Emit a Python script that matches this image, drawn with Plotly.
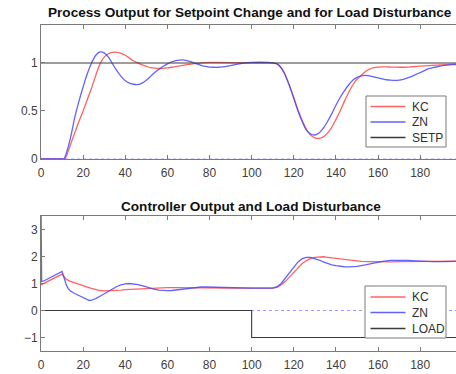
import plotly.graph_objects as go

# ---- Process output (setpoint change at t=0, load step at t=100) ----
t_pv_kc = [0, 10, 11.2, 12, 14, 16, 18, 20, 22, 24, 26, 28, 30, 32, 34, 36, 38, 40, 42, 44, 46,
           48, 50, 52, 54, 56, 58, 60, 62, 64, 66, 68, 70, 72, 74, 76, 80, 84, 90, 100, 110,
           112, 114, 116, 118, 120, 122, 124, 126, 128, 130, 132, 134, 136, 138, 140, 142, 144,
           146, 148, 150, 152, 154, 156, 158, 160, 162, 164, 166, 168, 170, 172, 174, 176, 178,
           180, 184, 188, 192, 196, 200]
pv_kc = [0, 0, 0, 0.03, 0.15, 0.27, 0.39, 0.5, 0.62, 0.74, 0.87, 0.99, 1.06, 1.095, 1.11, 1.11,
         1.1, 1.08, 1.05, 1.02, 1.0, 0.98, 0.965, 0.952, 0.945, 0.942, 0.943, 0.948, 0.955, 0.962,
         0.97, 0.978, 0.985, 0.99, 0.995, 1.0, 1.005, 1.005, 1.003, 1.0, 1.0,
         0.99, 0.95, 0.87, 0.76, 0.64, 0.51, 0.4, 0.31, 0.25, 0.22, 0.215, 0.23, 0.27, 0.33, 0.41,
         0.5, 0.6, 0.69, 0.77, 0.83, 0.87, 0.91, 0.935, 0.95, 0.956, 0.958, 0.958, 0.957, 0.956,
         0.955, 0.955, 0.957, 0.96, 0.963, 0.966, 0.972, 0.978, 0.983, 0.987, 0.99]

t_pv_zn = [0, 10, 10.8, 12, 14, 16, 18, 20, 22, 24, 26, 28, 30, 32, 34, 36, 38, 40, 42, 44, 46,
           48, 50, 52, 54, 56, 58, 60, 62, 64, 66, 68, 70, 72, 74, 76, 78, 80, 82, 84, 86, 88,
           90, 92, 94, 96, 100, 104, 108, 110, 112, 114, 116, 118, 120, 122, 124, 126, 128, 130,
           132, 134, 136, 138, 140, 142, 144, 146, 148, 150, 152, 154, 156, 158, 160, 162, 164,
           166, 168, 170, 172, 174, 176, 178, 180, 182, 184, 186, 188, 190, 192, 194, 196, 200]
pv_zn = [0, 0, 0, 0.06, 0.22, 0.43, 0.6, 0.75, 0.89, 1.0, 1.08, 1.115, 1.105, 1.06, 0.99, 0.92,
         0.86, 0.815, 0.79, 0.778, 0.775, 0.79, 0.82, 0.86, 0.9, 0.935, 0.965, 0.99, 1.01, 1.025,
         1.03, 1.03, 1.02, 1.005, 0.99, 0.975, 0.963, 0.957, 0.955, 0.955, 0.958, 0.965, 0.972,
         0.982, 0.99, 0.997, 1.005, 1.007, 1.005, 1.0,
         0.99, 0.95, 0.87, 0.76, 0.63, 0.5, 0.39, 0.3, 0.26, 0.25, 0.27, 0.32, 0.39, 0.47, 0.56,
         0.64, 0.71, 0.77, 0.82, 0.85, 0.865, 0.87, 0.865, 0.855, 0.845, 0.835, 0.825, 0.82,
         0.818, 0.82, 0.83, 0.845, 0.86, 0.88, 0.9, 0.92, 0.94, 0.95, 0.96, 0.97, 0.975, 0.98,
         0.982, 0.985]

t_setp = [0, 200]
setp = [1, 1]

# ---- Controller output and load disturbance ----
t_co_kc = [0, 2, 4, 6, 8, 10, 11, 12, 14, 16, 18, 20, 22, 24, 26, 28, 30, 32, 34, 36, 38, 40,
           44, 48, 52, 56, 60, 64, 68, 72, 76, 80, 90, 100, 110, 112, 114, 116, 118, 120, 122,
           124, 126, 128, 130, 132, 134, 136, 138, 140, 144, 148, 152, 156, 160, 166, 172, 180,
           190, 200]
co_kc = [0.95, 1.03, 1.1, 1.18, 1.26, 1.35, 1.25, 1.15, 1.08, 1.02, 0.97, 0.92, 0.87, 0.82,
         0.77, 0.74, 0.73, 0.73, 0.735, 0.745, 0.755, 0.77, 0.79, 0.81, 0.83, 0.84, 0.845,
         0.845, 0.84, 0.835, 0.83, 0.83, 0.83, 0.83, 0.83, 0.86, 0.95, 1.08, 1.25, 1.44, 1.6,
         1.74, 1.85, 1.93, 1.97, 1.99, 1.99, 1.97, 1.95, 1.93, 1.88, 1.84, 1.82, 1.81, 1.8, 1.8,
         1.81, 1.82, 1.825, 1.83]

t_co_zn = [0, 0.3, 2, 4, 6, 8, 10, 11, 12, 13, 14, 16, 18, 20, 22, 23, 24, 26, 28, 30, 32, 34,
           36, 38, 40, 42, 44, 46, 48, 50, 52, 54, 56, 58, 60, 62, 64, 66, 68, 70, 72, 74, 76,
           78, 80, 84, 88, 92, 96, 100, 110, 112, 114, 116, 118, 120, 122, 124, 126, 128, 130,
           132, 134, 136, 138, 140, 142, 144, 146, 148, 150, 154, 158, 162, 166, 170, 174, 178,
           182, 186, 190, 196, 200]
co_zn = [4.0, 1.07, 1.12, 1.2, 1.28, 1.37, 1.45, 1.2, 0.95, 0.8, 0.72, 0.63, 0.55, 0.47, 0.4,
         0.37, 0.38, 0.44, 0.53, 0.62, 0.72, 0.81, 0.89, 0.95, 0.99, 1.0, 0.99, 0.96, 0.92, 0.87,
         0.82, 0.78, 0.755, 0.74, 0.735, 0.74, 0.76, 0.78, 0.81, 0.83, 0.85, 0.86, 0.87, 0.87,
         0.865, 0.855, 0.845, 0.835, 0.83, 0.83, 0.83, 0.88, 1.0, 1.2, 1.42, 1.62, 1.8, 1.92,
         1.97, 1.97, 1.93, 1.87, 1.8, 1.74, 1.69, 1.66, 1.635, 1.62, 1.615, 1.62, 1.635, 1.69,
         1.76, 1.82, 1.86, 1.87, 1.86, 1.84, 1.82, 1.81, 1.81, 1.815, 1.82]

t_load = [0, 100, 100, 200]
load = [0, 0, -1, -1]

t_zero = [0, 200]
zero = [0, 0]

x_ticks = [0, 20, 40, 60, 80, 100, 120, 140, 160, 180]
legend_top = ["KC", "ZN", "SETP"]
legend_bottom = ["KC", "ZN", "LOAD"]

RED = "rgba(255,70,70,0.85)"
BLUE = "rgba(70,70,255,0.85)"
GREY = "#3a3a3a"
FONT = "Liberation Sans, Arial, sans-serif"

W, H = 456, 374
ML, MR, MT, MB = 41, 0, 24, 23
PW, PH = W - ML - MR, H - MT - MB


def px(x):
    return (x - ML) / PW


def py(y):
    return (H - MB - y) / PH


fig = go.Figure()

# upper axes: process output
fig.add_trace(go.Scatter(x=t_zero, y=zero, mode="lines",
                         line=dict(color="rgba(110,110,255,0.7)", width=1, dash="dot"),
                         xaxis="x", yaxis="y", hoverinfo="skip"))
fig.add_trace(go.Scatter(x=t_pv_kc, y=pv_kc, name="KC", mode="lines", line_shape="spline",
                         line=dict(color=RED, width=1.3), xaxis="x", yaxis="y"))
fig.add_trace(go.Scatter(x=t_pv_zn, y=pv_zn, name="ZN", mode="lines", line_shape="spline",
                         line=dict(color=BLUE, width=1.3), xaxis="x", yaxis="y"))
fig.add_trace(go.Scatter(x=t_setp, y=setp, name="SETP", mode="lines",
                         line=dict(color=GREY, width=1.1), xaxis="x", yaxis="y"))

# lower axes: controller output and load
fig.add_trace(go.Scatter(x=t_zero, y=zero, mode="lines",
                         line=dict(color="rgba(110,110,255,0.7)", width=1, dash="dot"),
                         xaxis="x2", yaxis="y2", hoverinfo="skip"))
fig.add_trace(go.Scatter(x=t_co_kc, y=co_kc, name="KC", mode="lines",
                         line=dict(color=RED, width=1.3), xaxis="x2", yaxis="y2"))
fig.add_trace(go.Scatter(x=t_co_zn, y=co_zn, name="ZN", mode="lines",
                         line=dict(color=BLUE, width=1.3), xaxis="x2", yaxis="y2"))
fig.add_trace(go.Scatter(x=t_load, y=load, name="LOAD", mode="lines",
                         line=dict(color=GREY, width=1.1), xaxis="x2", yaxis="y2"))

axis_common = dict(showline=True, linecolor="#7a7a7a", linewidth=1, ticks="inside",
                   ticklen=4, tickcolor="#7a7a7a", showgrid=False, zeroline=False,
                   tickfont=dict(family=FONT, size=12, color="#404040"))

# legend boxes drawn in paper space
shapes = []
annotations = []
legend_colors = [RED, BLUE, GREY]
for names, (bx0, by0, bx1, by1), rows in [
        (legend_top, (366, 96, 446, 147), (106.5, 122, 137.5)),
        (legend_bottom, (365, 286, 446, 338), (297, 312.5, 328.5))]:
    shapes.append(dict(type="rect", xref="paper", yref="paper",
                       x0=px(bx0), x1=px(bx1), y0=py(by1), y1=py(by0),
                       line=dict(color="#7a7a7a", width=1), fillcolor="white", layer="above"))
    for name, yy, col in zip(names, rows, legend_colors):
        shapes.append(dict(type="line", xref="paper", yref="paper",
                           x0=px(370.5), x1=px(405.5), y0=py(yy), y1=py(yy),
                           line=dict(color=col, width=1.3), layer="above"))
        annotations.append(dict(text=name, x=px(410), y=py(yy), xref="paper", yref="paper",
                                xanchor="left", yanchor="middle", showarrow=False,
                                font=dict(family=FONT, size=12, color="#303030")))

annotations += [
    dict(text="<b>Process Output for Setpoint Change and for Load Disturbance</b>",
         x=px(250), y=py(12.5), xref="paper", yref="paper", xanchor="center",
         yanchor="middle", showarrow=False, font=dict(family=FONT, size=13.6, color="#111")),
    dict(text="<b>Controller Output and Load Disturbance</b>",
         x=px(251), y=py(206), xref="paper", yref="paper", xanchor="center",
         yanchor="middle", showarrow=False, font=dict(family=FONT, size=13.6, color="#111")),
]

fig.update_layout(
    width=W, height=H,
    margin=dict(l=ML, r=MR, t=MT, b=MB),
    paper_bgcolor="white", plot_bgcolor="white",
    showlegend=False,
    xaxis=dict(domain=[0, 1], range=[0, 197], anchor="y", tickvals=x_ticks,
               mirror="ticks", ticklabelstandoff=3, **axis_common),
    yaxis=dict(domain=[py(159), py(24.5)], range=[0, 1.4], anchor="x", tickvals=[0, 0.5, 1],
               ticktext=["0", "0.5", "1"], **axis_common),
    xaxis2=dict(domain=[0, 1], range=[0, 197], anchor="y2", tickvals=x_ticks,
                mirror="ticks", ticklabelstandoff=3, **axis_common),
    yaxis2=dict(domain=[0, py(216)], range=[-1.5, 3.5], anchor="x2",
                tickvals=[-1, 0, 1, 2, 3], **axis_common),
    shapes=shapes,
    annotations=annotations,
)

fig.write_html("out.html")
